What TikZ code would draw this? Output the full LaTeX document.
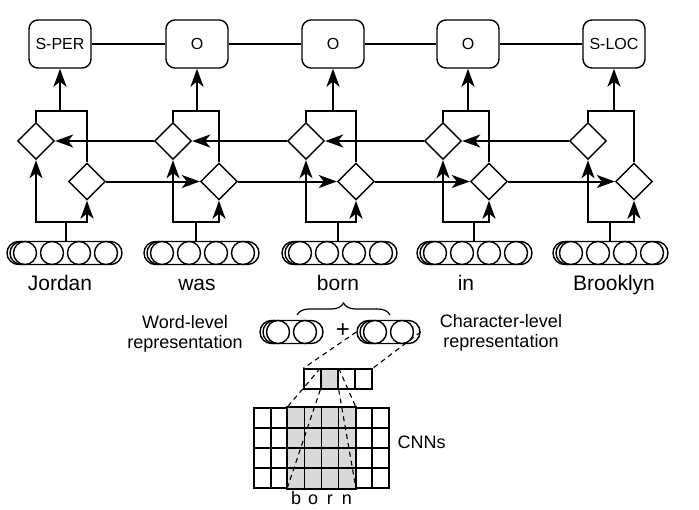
\documentclass[tikz,border=0pt]{standalone}
\usepackage{fontspec}
\setmainfont{Liberation Sans}
\usetikzlibrary{arrows.meta,shapes.geometric,decorations.pathreplacing}
\begin{document}
\begin{tikzpicture}[x=1pt,y=-1pt, line width=1.4pt,
 tag/.style={draw, rounded corners=9pt, minimum width=62pt, minimum height=48pt, inner sep=0pt, font=\fontsize{16}{18}\selectfont},
 cellnode/.style={draw, diamond, aspect=1, minimum width=37pt, minimum height=37pt, inner sep=0pt},
 arr/.style={line width=2pt, -{Stealth[length=18pt,width=13pt,inset=5pt]}},
 word/.style={font=\fontsize{21}{24}\selectfont, anchor=base, inner sep=0pt},
 lbl/.style={font=\fontsize{18}{20}\selectfont, align=center, inner sep=0pt},
 pill/.style={draw, rounded corners=11.5pt, minimum height=23pt, inner sep=0pt},
 circ/.style={draw, fill=white, circle, minimum size=23pt, inner sep=0pt},
 dsh/.style={line width=1.1pt, dash pattern=on 5pt off 4pt},
 vcell/.style={draw, minimum width=17pt, minimum height=20pt, inner sep=0pt},
]
\useasboundingbox (0,0) rectangle (699,509);

% columns
\foreach \i/\c/\lx/\rx/\s/\e/\wx/\w/\t in {
  1/60/36/87/66/64.5/60/Jordan/S-PER,
  2/197/173/219/196/201.5/197/was/O,
  3/333/306/356/338/339.5/338/born/O,
  4/468/443/489/474/474.5/466/in/O,
  5/614/588/634/610/610.5/614/Brooklyn/S-LOC}{
  \node[tag] (b\i) at (\c,44) {\t};
  \node[cellnode] (dl\i) at (\lx,141) {};
  \node[cellnode] (dr\i) at (\rx,181.5) {};
  \coordinate (t\i) at (\c,111);
  \coordinate (u\i) at (\s,222);
  % embedding
  \node[pill, minimum width=115pt] (e\i) at (\e,253) {};
  \node[circ] (e\i x) at (\e-43,253) {};
  \node[circ] (e\i a) at (\e-39.5,253) {};
  \node[circ] (e\i b) at (\e-12.5,253) {};
  \node[circ] (e\i c) at (\e+14.5,253) {};
  \node[circ] (e\i d) at (\e+41.5,253) {};
  \node[word] (w\i) at (\wx,290) {\w};
  % brackets and arrows
  \draw (dl\i.north) |- (t\i) -| (dr\i.north);
  \draw[arr] (t\i) -- (b\i.south);
  \draw (u\i |- e\i.north) -- (u\i);
  \draw[arr] (u\i) -| (dl\i.south);
  \draw[arr] (u\i) -| (dr\i.south);
}

\foreach \i/\j in {1/2,2/3,3/4,4/5}{
  \draw (b\i.east) -- (b\j.west);
  \draw[arr] (dl\j.west) -- (dl\i.east);
  \draw[arr] (dr\i.east) -- (dr\j.west);
}

% brace under "born"
\coordinate (bl) at (297,315);
\coordinate (br) at (390,315);
\draw[line width=1.2pt, decorate, decoration={brace, amplitude=12pt}] (bl) -- (br);

% word-level and character-level representations
\node[pill, minimum width=63pt] (wl) at (291.5,332) {};
\node[circ] at (291.5-17,332) {};
\node[circ] at (291.5-13.5,332) {};
\node[circ] at (291.5+13.5,332) {};
\node[pill, minimum width=63pt] (cl) at (388.5,332) {};
\node[circ] at (388.5-17,332) {};
\node[circ] at (388.5-13.5,332) {};
\node[circ] at (388.5+13.5,332) {};
\node[lbl, font=\fontsize{24}{24}\selectfont] (plus) at (343,331) {+};
\node[lbl] (wlab) at (185,334) {Word-level\\representation};
\node[lbl] (clab) at (501,333) {Character-level\\representation};

% pooled vector
\node[vcell] (v1) at (312.5,379) {};
\node[vcell, fill=black!15] (v2) at (329.5,379) {};
\node[vcell] (v3) at (346.5,379) {};
\node[vcell] (v4) at (363.5,379) {};

% CNN grid
\node[draw, minimum width=135pt, minimum height=80pt, inner sep=0pt] (grid) at (321.5,448) {};
\node[fill=black!15, minimum width=67.5pt, minimum height=80pt, inner sep=0pt] (sh) at (321.5,448) {};
\foreach \k in {1,...,7} \draw (254+\k*16.875,408) -- (254+\k*16.875,488);
\foreach \k in {1,2,3} \draw (254,408+\k*20) -- (389,408+\k*20);
\draw (grid.north west) rectangle (grid.south east);
\draw[line width=2pt] (sh.north west) rectangle (sh.south east);

% dashed connections
\draw[dsh] (cl.west) -- (v1.north west);
\draw[dsh] (cl.east) -- (v4.north east);
\draw[dsh] (v2.north west) -- (sh.north west);
\draw[dsh] (v2.south west) -- (sh.south west);
\draw[dsh] (v2.north east) -- (sh.north east);
\draw[dsh] (v2.south east) -- (sh.south east);

\foreach \k/\l in {0/b,1/o,2/r,3/n}
  \node[lbl, anchor=base] (ch\k) at (296.2+\k*16.875,504) {\l};
\node[lbl, anchor=west] (cnn) at (397,442) {CNNs};
\end{tikzpicture}
\end{document}
